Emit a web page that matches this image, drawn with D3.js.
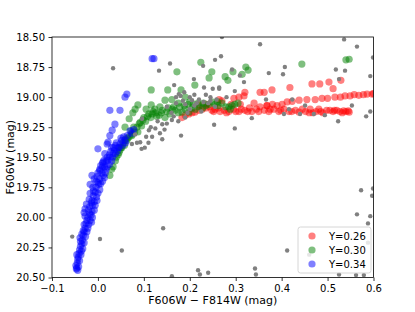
<!DOCTYPE html>
<html>
<head>
<meta charset="utf-8">
<script src="https://cdn.jsdelivr.net/npm/d3@7"></script>
<style>
  body { margin: 0; background: #fff; }
  text { font-family: "DejaVu Sans", sans-serif; }
</style>
</head>
<body>
<div id="viz"></div>
<script>

// [F606W - F814W, F606W]
var bluePts = [[-0.046,20.42],[-0.048,20.40],[-0.045,20.38],[-0.044,20.35],[-0.043,20.33],[-0.041,20.30],[-0.046,20.31],[-0.040,20.27],[-0.038,20.24],[-0.039,20.17],[-0.035,20.22],[-0.034,20.19],[-0.032,20.15],[-0.030,20.12],[-0.032,20.11],[-0.030,20.06],[-0.028,20.09],[-0.026,20.05],[-0.024,20.025],[-0.022,20.00],[-0.017,20.025],[-0.015,19.98],[-0.028,19.99],[-0.030,19.96],[-0.028,19.93],[-0.021,19.94],[-0.018,19.91],[-0.013,19.95],[-0.012,19.90],[-0.025,19.89],[-0.019,19.85],[-0.013,19.86],[-0.008,19.87],[-0.010,19.82],[-0.006,19.79],[-0.003,19.83],[-0.017,19.80],[-0.017,19.725],[-0.011,19.75],[-0.004,19.75],[0.000,19.71],[0.002,19.725],[0.004,19.68],[-0.013,19.65],[-0.008,19.68],[0.009,19.63],[0.004,19.60],[0.012,19.65],[0.015,19.58],[0.018,19.60],[0.010,19.55],[0.013,19.525],[0.022,19.525],[0.020,19.50],[0.026,19.50],[0.033,19.47],[0.028,19.45],[0.036,19.44],[0.044,19.42],[0.038,19.40],[0.048,19.39],[0.052,19.36],[0.059,19.36],[0.056,19.33],[0.064,19.32],[0.074,19.30],[0.070,19.28],[0.078,19.27],[0.000,19.43],[0.015,19.47],[0.020,19.39],[0.022,19.375],[0.026,19.32],[0.031,19.275],[0.037,19.225],[0.026,19.11],[0.048,19.11],[0.059,19.00],[0.063,18.975],[0.118,18.68],[0.122,18.68],[0.010,19.58],[-0.002,19.66],[0.030,19.42],[0.040,19.38],[0.050,19.34],
	[-0.020,20.06],[-0.014,20.04],[-0.012,20.00],[-0.018,19.97],[-0.008,19.94],[-0.006,19.90],[-0.002,19.86],[-0.014,19.88],[0.000,19.80],[0.004,19.77],[-0.010,19.78],[0.006,19.72],[0.010,19.70],[-0.004,19.70],[0.014,19.67],[0.016,19.63],[0.000,19.63],[0.020,19.58],[0.025,19.56],[0.006,19.57],[0.030,19.53],[0.032,19.50],[0.018,19.53],[0.038,19.47],[0.042,19.45],[0.025,19.48],[0.046,19.42],[0.054,19.40],[0.060,19.38],[0.034,19.42],[-0.036,20.28],[-0.040,20.36],[-0.042,20.41],[-0.044,20.44],[-0.047,20.43],[-0.037,20.31],[-0.033,20.26],[-0.030,20.21],[-0.027,20.16],[-0.024,20.12],[-0.022,20.09],[-0.035,20.14],[-0.038,20.20],[0.011,19.54],[0.004,19.61]];

var greenPts = [[0.026,19.65],[0.030,19.60],[0.033,19.58],[0.038,19.53],[0.044,19.48],[0.046,19.46],[0.050,19.42],[0.052,19.42],[0.055,19.38],[0.060,19.35],[0.063,19.36],[0.068,19.33],[0.074,19.31],[0.074,19.32],[0.080,19.29],[0.085,19.25],[0.087,19.29],[0.092,19.21],[0.095,19.24],[0.100,19.17],[0.104,19.20],[0.111,19.14],[0.115,19.17],[0.120,19.12],[0.124,19.10],[0.128,19.16],[0.133,19.15],[0.138,19.13],[0.146,19.17],[0.150,19.12],[0.157,19.14],[0.162,19.10],[0.168,19.11],[0.175,19.13],[0.183,19.125],[0.190,19.10],[0.198,19.125],[0.205,19.09],[0.212,19.10],[0.220,19.08],[0.228,19.09],[0.235,19.07],[0.242,19.06],[0.255,19.06],[0.262,19.07],[0.270,19.05],[0.278,19.08],[0.285,19.08],[0.292,19.07],[0.298,19.06],[0.305,19.05],[0.288,19.10],[0.059,19.25],[0.068,19.18],[0.076,19.13],[0.081,19.10],[0.087,19.065],[0.116,19.065],[0.146,19.025],[0.161,19.02],[0.116,18.94],[0.152,18.94],[0.181,18.94],[0.211,18.90],[0.172,18.79],[0.224,18.71],[0.242,18.84],[0.248,18.79],[0.277,18.83],[0.283,18.86],[0.294,18.79],[0.314,18.81],[0.322,18.75],[0.327,18.775],[0.444,18.725],[0.540,18.69],[0.547,18.685],[0.190,19.00],[0.200,19.04],[0.175,19.05],[0.135,19.08],[0.105,19.10],
	[0.040,19.50],[0.048,19.44],[0.058,19.40],[0.065,19.34],[0.072,19.28],[0.078,19.25],[0.090,19.22],[0.098,19.19],[0.108,19.16],[0.118,19.14],[0.126,19.13],[0.140,19.11],[0.153,19.09],[0.165,19.08],[0.178,19.08],[0.188,19.07],[0.196,19.06],[0.208,19.06],[0.218,19.05],[0.230,19.05],[0.248,19.04],[0.260,19.04]];

var redPts = [[0.183,19.17],[0.190,19.15],[0.198,19.14],[0.205,19.13],[0.211,19.125],[0.220,19.11],[0.227,19.10],[0.235,19.09],[0.242,19.08],[0.220,19.065],[0.237,19.06],[0.248,19.11],[0.255,19.10],[0.266,19.12],[0.262,19.09],[0.275,19.11],[0.285,19.12],[0.295,19.10],[0.307,19.12],[0.312,19.10],[0.320,19.11],[0.330,19.09],[0.335,19.12],[0.345,19.10],[0.353,19.08],[0.362,19.11],[0.368,19.07],[0.375,19.10],[0.383,19.10],[0.390,19.07],[0.394,19.12],[0.401,19.06],[0.405,19.10],[0.412,19.04],[0.416,19.12],[0.423,19.035],[0.430,19.11],[0.438,19.025],[0.438,19.125],[0.445,19.10],[0.455,19.02],[0.460,19.13],[0.462,19.10],[0.473,19.02],[0.475,19.12],[0.481,19.10],[0.488,19.01],[0.490,19.13],[0.498,19.11],[0.505,19.11],[0.512,19.12],[0.516,19.00],[0.520,19.11],[0.527,19.12],[0.535,19.115],[0.538,18.99],[0.540,19.12],[0.547,19.125],[0.549,18.99],[0.568,18.985],[0.586,18.975],[0.597,18.975],[0.600,18.97],[0.264,19.02],[0.270,19.03],[0.296,19.01],[0.307,19.00],[0.318,18.99],[0.320,18.96],[0.353,18.96],[0.362,18.96],[0.379,18.94],[0.418,18.92],[0.466,18.89],[0.483,18.89],[0.503,18.875],[0.512,18.93],[0.529,18.86],[0.368,19.07],[0.380,19.06],[0.340,19.05],[0.310,19.06],[0.290,19.06],
	[0.252,19.12],[0.280,19.13],[0.300,19.12],[0.326,19.12],[0.350,19.12],[0.372,19.12],[0.398,19.11],[0.422,19.12],[0.452,19.12],[0.468,19.13],[0.485,19.12],[0.515,19.11],[0.532,19.13],[0.545,19.115],[0.500,19.01],[0.528,19.00],[0.558,18.98],[0.578,18.98]];

var grayPts = [[0.033,18.76],[0.133,18.78],[0.157,18.72],[0.229,18.74],[0.166,18.90],[0.209,18.85],[0.231,18.92],[0.181,19.32],[0.118,19.33],[0.092,19.375],[0.111,19.275],[0.140,19.225],[0.161,19.19],[0.205,19.025],[0.220,19.02],[0.190,19.06],[0.176,18.975],[0.096,19.18],[0.081,19.31],[0.102,19.42],[0.074,19.39],[0.270,18.50],[0.353,18.56],[0.536,18.52],[0.564,18.58],[0.255,18.69],[0.268,18.66],[0.292,18.77],[0.309,18.82],[0.318,18.875],[0.372,18.80],[0.403,18.81],[0.407,18.75],[0.518,18.77],[0.538,18.78],[0.525,18.85],[0.593,18.825],[0.599,18.67],[0.264,18.93],[0.298,18.95],[0.366,19.02],[0.423,19.02],[0.335,19.175],[0.298,19.26],[0.253,19.23],[0.494,19.15],[0.523,19.20],[0.553,19.07],[0.584,19.16],[0.593,19.12],[0.470,19.14],[0.440,19.14],[0.416,19.10],[0.451,19.07],[0.405,19.14],[-0.056,20.16],[0.0045,20.18],[0.052,20.275],[0.142,20.09],[0.161,20.49],[0.218,20.44],[0.222,20.475],[0.240,20.46],[0.573,19.775],[0.599,19.76],[0.597,19.82],[0.564,19.975],[0.588,20.05],[0.593,19.99],[0.412,20.275],[0.342,20.425],[0.344,20.475],[0.525,20.475],[0.562,20.48],[0.579,20.48],[0.588,20.21],[0.460,20.31],[0.170,19.05],[0.185,19.03],[0.200,19.00],[0.215,19.05],[0.230,19.04],[0.245,19.03],[0.210,19.07],[0.150,19.08],[0.160,19.13],[0.130,19.20],[0.125,19.26],[0.145,19.27],[0.105,19.33],[0.085,19.38],[0.258,19.02],[0.280,19.00],[0.200,19.10],[0.235,18.98],
	[0.115,19.25],[0.135,19.30],[0.150,19.22],[0.165,19.16],[0.175,19.20],[0.190,19.17],[0.195,19.13],[0.225,19.12],[0.240,19.05],[0.255,19.08],[0.170,19.00],[0.180,18.99],[0.188,18.96],[0.210,18.98],[0.245,19.00],[0.110,19.38],[0.095,19.43],[0.140,19.35],[0.250,18.93],[0.264,18.92]];

var seriesNames = ["Y=0.26", "Y=0.30", "Y=0.34"];
var seriesColors = ["red", "green", "blue"];
var xTicks = [-0.1, 0.0, 0.1, 0.2, 0.3, 0.4, 0.5, 0.6];
var yTicks = [18.50, 18.75, 19.00, 19.25, 19.50, 19.75, 20.00, 20.25, 20.50];

var width = 415, height = 312;
var pLeft = 52, pTop = 37, pRight = 373.5, pBottom = 277.5;

var svg = d3.select("#viz")
	.append("svg")
	.attr("width", width)
	.attr("height", height);

var x = d3.scaleLinear().domain([-0.1, 0.6]).range([pLeft, pRight]);
var y = d3.scaleLinear().domain([18.5, 20.5]).range([pTop, pBottom]);

svg.append("clipPath").attr("id", "clip")
	.append("rect")
	.attr("x", pLeft).attr("y", pTop)
	.attr("width", pRight - pLeft).attr("height", pBottom - pTop);

var plot = svg.append("g").attr("clip-path", "url(#clip)");

[redPts, greenPts, bluePts].forEach((pts, i) => {
	plot.append("g").selectAll("circle")
		.data(pts)
		.enter()
		.append("circle")
		.attr("cx", d => x(d[0]))
		.attr("cy", d => y(d[1]))
		.attr("r", 3.6)
		.attr("fill", seriesColors[i])
		.attr("fill-opacity", 0.5);
});

plot.append("g").selectAll("circle")
	.data(grayPts)
	.enter()
	.append("circle")
	.attr("cx", d => x(d[0]))
	.attr("cy", d => y(d[1]))
	.attr("r", 2.2)
	.attr("fill", "#808080");

// axes
var xAxis = d3.axisBottom(x).tickValues(xTicks).tickSizeOuter(0).tickSize(3.5).tickPadding(3.5)
	.tickFormat(d => d3.format(".1f")(d).replace("-", "\u2212"));
var yAxis = d3.axisLeft(y).tickValues(yTicks).tickSizeOuter(0).tickSize(3.5).tickPadding(3.5)
	.tickFormat(d3.format(".2f"));

var gx = svg.append("g").attr("transform", "translate(0," + pBottom + ")").call(xAxis);
var gy = svg.append("g").attr("transform", "translate(" + pLeft + ",0)").call(yAxis);
[gx, gy].forEach(g => {
	g.select(".domain").remove();
	g.selectAll("text").attr("font-size", 10).attr("fill", "#000").style("font-family", "DejaVu Sans");
	g.selectAll("line").attr("stroke", "#000").attr("stroke-width", 0.8);
});

svg.append("rect")
	.attr("x", pLeft).attr("y", pTop)
	.attr("width", pRight - pLeft).attr("height", pBottom - pTop)
	.attr("fill", "none")
	.attr("stroke", "#000")
	.attr("stroke-width", 0.8);

svg.append("text")
	.attr("x", (pLeft + pRight) / 2)
	.attr("y", 304)
	.attr("text-anchor", "middle")
	.attr("font-size", 11)
	.text("F606W \u2212 F814W (mag)");

svg.append("text")
	.attr("transform", "translate(14," + ((pTop + pBottom) / 2) + ") rotate(-90)")
	.attr("text-anchor", "middle")
	.attr("font-size", 11)
	.text("F606W (mag)");

// legend
var legend = svg.append("g").attr("transform", "translate(298,227)");
legend.append("rect")
	.attr("width", 73).attr("height", 46)
	.attr("rx", 2.5)
	.attr("fill", "#fff").attr("fill-opacity", 0.8)
	.attr("stroke", "#ccc").attr("stroke-width", 0.8);

seriesNames.forEach((name, i) => {
	var row = legend.append("g").attr("transform", "translate(0," + (9 + i * 14) + ")");
	row.append("circle")
		.attr("cx", 14).attr("cy", 0).attr("r", 3.6)
		.attr("fill", seriesColors[i]).attr("fill-opacity", 0.5);
	row.append("text")
		.attr("x", 31).attr("y", 3.6)
		.attr("font-size", 10)
		.text(name);
});

</script>
</body>
</html>
